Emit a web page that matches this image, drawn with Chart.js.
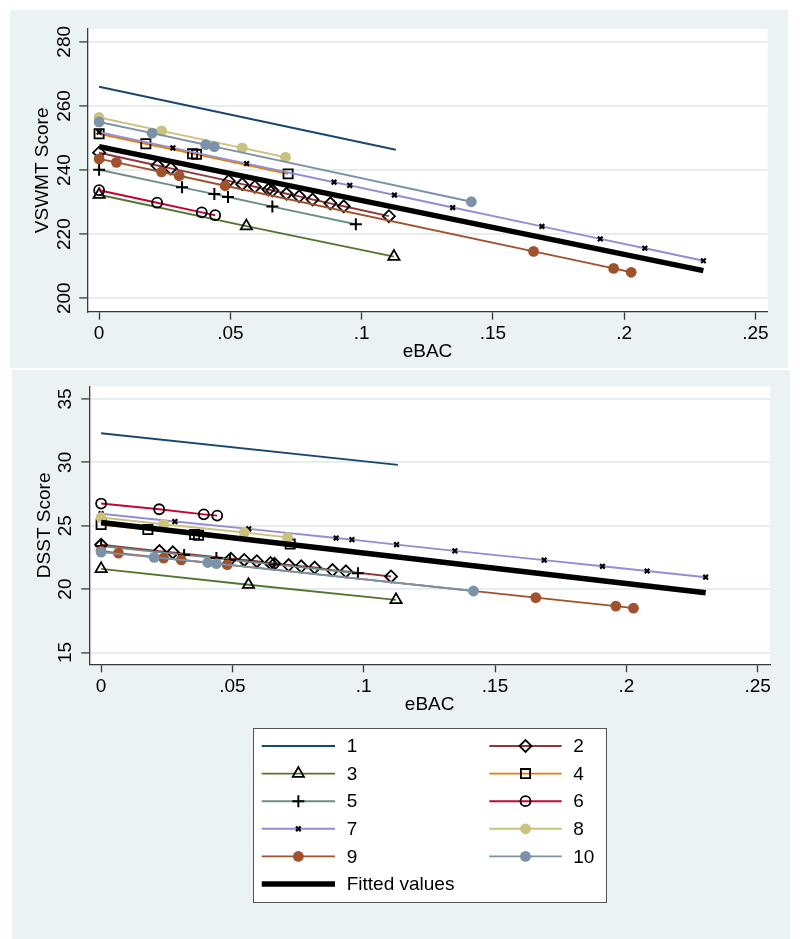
<!DOCTYPE html>
<html>
<head>
<meta charset="utf-8">
<script src="https://cdn.jsdelivr.net/npm/chart.js@4.4.1/dist/chart.umd.min.js"></script>
<style>
  html, body { margin:0; padding:0; background:#fff; }
  body { width:800px; height:939px; position:relative; overflow:hidden; }
  .panel { position:absolute; background:#eaf2f3; }
  #panel-top { left:10px; top:10px;  width:778px; height:358px; }
  #panel-bot { left:12px; top:370px; width:778px; height:569px; }
  canvas { display:block; }
</style>
</head>
<body>
<div class="panel" id="panel-top"><canvas id="js-vswmt" width="778" height="358"></canvas></div>
<div class="panel" id="panel-bot"><canvas id="js-dsst" width="778" height="569"></canvas></div>
<script>
  /* ━━━━  DATA  ━━━━ */
  const GROUPS = ['1','2','3','4','5','6','7','8','9','10','Fitted values'];

  // eBAC of each observation, per group (same subjects in both panels)
  const EBAC_1   = [0, 0.113];
  const EBAC_2   = [0, 0.0222, 0.0273, 0.0494, 0.0545, 0.0593, 0.0645, 0.066, 0.0714, 0.0762, 0.0813, 0.0881, 0.0932, 0.1104];
  const EBAC_3   = [0, 0.0561, 0.1123];
  const EBAC_4   = [0, 0.0178, 0.0356, 0.0371, 0.072];
  const EBAC_5   = [0, 0.0316, 0.0439, 0.0491, 0.066, 0.0978];
  const EBAC_6   = [0, 0.0221, 0.0391, 0.0442];
  const EBAC_7   = [0, 0.0281, 0.0562, 0.0895, 0.0955, 0.1125, 0.1347, 0.1687, 0.1909, 0.2079, 0.2302];
  const EBAC_8   = [0, 0.0238, 0.0545, 0.071];
  const EBAC_9   = [0, 0.0066, 0.0238, 0.0305, 0.048, 0.1655, 0.196, 0.2027];
  const EBAC_10  = [0, 0.0202, 0.0406, 0.0439, 0.1418];
  const EBAC_FIT = [0, 0.2302];

  // VSWMT score (top panel)
  const VSWMT_1   = [266.0, 246.3];
  const VSWMT_2   = [245.4, 241.4, 240.5, 236.6, 235.6, 234.8, 233.9, 233.6, 232.6, 231.8, 230.8, 229.6, 228.7, 225.6];
  const VSWMT_3   = [232.3, 222.5, 213.0];
  const VSWMT_4   = [251.3, 248.2, 245.1, 244.9, 238.8];
  const VSWMT_5   = [240.1, 234.6, 232.5, 231.6, 228.6, 223.1];
  const VSWMT_6   = [233.7, 229.8, 226.8, 225.9];
  const VSWMT_7   = [251.8, 246.9, 242.0, 236.2, 235.2, 232.2, 228.3, 222.4, 218.5, 215.6, 211.7];
  const VSWMT_8   = [256.4, 252.2, 246.9, 244.0];
  const VSWMT_9   = [243.5, 242.4, 239.4, 238.2, 235.1, 214.6, 209.3, 208.1];
  const VSWMT_10  = [255.0, 251.5, 247.9, 247.3, 230.1];
  const VSWMT_FIT = [247.3, 208.6];

  // DSST score (bottom panel)
  const DSST_1   = [32.3, 29.8];
  const DSST_2   = [23.5, 23.0, 22.9, 22.4, 22.3, 22.2, 22.05, 22.0, 21.9, 21.8, 21.7, 21.5, 21.4, 21.0];
  const DSST_3   = [21.6, 20.35, 19.15];
  const DSST_4   = [25.1, 24.7, 24.3, 24.25, 23.55];
  const DSST_5   = [23.4, 22.7, 22.45, 22.3, 21.95, 21.25];
  const DSST_6   = [26.75, 26.3, 25.9, 25.8];
  const DSST_7   = [25.95, 25.33, 24.75, 24.03, 23.9, 23.51, 23.02, 22.29, 21.8, 21.43, 20.94];
  const DSST_8   = [25.65, 25.12, 24.47, 24.08];
  const DSST_9   = [23.0, 22.84, 22.45, 22.3, 21.93, 19.33, 18.66, 18.5];
  const DSST_10  = [22.92, 22.5, 22.1, 22.01, 19.85];
  const DSST_FIT = [25.25, 19.72];

  const X_TICKS        = [0, 0.05, 0.1, 0.15, 0.2, 0.25];
  const X_TICK_LABELS  = ['0', '.05', '.1', '.15', '.2', '.25'];
  const VSWMT_TICKS    = [200, 220, 240, 260, 280];
  const DSST_TICKS     = [15, 20, 25, 30, 35];

  const EBAC  = [EBAC_1, EBAC_2, EBAC_3, EBAC_4, EBAC_5, EBAC_6, EBAC_7, EBAC_8, EBAC_9, EBAC_10, EBAC_FIT];
  const VSWMT = [VSWMT_1, VSWMT_2, VSWMT_3, VSWMT_4, VSWMT_5, VSWMT_6, VSWMT_7, VSWMT_8, VSWMT_9, VSWMT_10, VSWMT_FIT];
  const DSST  = [DSST_1, DSST_2, DSST_3, DSST_4, DSST_5, DSST_6, DSST_7, DSST_8, DSST_9, DSST_10, DSST_FIT];

  /* ━━━━  STYLE  ━━━━ */
  const FONT = { family: "'Liberation Sans', Arial, sans-serif", size: 19 };
  const AXIS = '#3a3a3a';
  const GRID = '#e3ebee';

  const STYLE = [
    { color:'#1a476f', lw:2,   point:null },
    { color:'#90353b', lw:1.9, point:'rectRot',  r:6,   filled:false, bw:1.8 },
    { color:'#55752f', lw:1.9, point:'triangle', r:6.5, filled:false, bw:1.8 },
    { color:'#e37e00', lw:1.9, point:'rect',     r:6.5, filled:false, bw:1.8 },
    { color:'#6e8e84', lw:1.9, point:'cross',    r:6,   filled:false, bw:2   },
    { color:'#c10534', lw:1.9, point:'circle',   r:5,   filled:false, bw:1.8 },
    { color:'#938dd2', lw:1.9, point:'crossRot', r:3.3, filled:false, bw:2.2 },
    { color:'#cac27e', lw:1.9, point:'circle',   r:5.4, filled:true,  bw:0   },
    { color:'#a0522d', lw:1.9, point:'circle',   r:5.4, filled:true,  bw:0   },
    { color:'#7b92a8', lw:1.9, point:'circle',   r:5.4, filled:true,  bw:0   },
    { color:'#000000', lw:5.5, point:null },
  ];

  function buildDatasets(ys) {
    return GROUPS.map((g, i) => {
      const s = STYLE[i];
      return {
        label: g,
        data: EBAC[i].map((x, k) => ({ x, y: ys[i][k] })),
        showLine: true,
        tension: 0,
        fill: false,
        borderColor: s.color,
        borderWidth: s.lw,
        pointStyle: s.point || 'circle',
        pointRadius: s.point ? s.r : 0,
        pointHoverRadius: s.point ? s.r : 0,
        pointBackgroundColor: s.filled ? s.color : 'rgba(0,0,0,0)',
        pointBorderColor: s.filled ? s.color : '#000',
        pointBorderWidth: s.bw || 0,
        order: GROUPS.length - i
      };
    });
  }

  /* white plot region */
  const plotBg = {
    id: 'plotBg',
    beforeDraw(chart) {
      const a = chart.chartArea, ctx = chart.ctx;
      ctx.save();
      ctx.fillStyle = '#fff';
      ctx.fillRect(a.left, a.top, a.right - a.left, a.bottom - a.top);
      ctx.restore();
    }
  };

  /* Stata style legend box under the bottom panel */
  const legendBox = {
    id: 'legendBox',
    afterDraw(chart) {
      const ctx = chart.ctx;
      const dp = Chart.helpers && Chart.helpers.drawPoint;
      ctx.save();
      ctx.fillStyle = '#fff';
      ctx.fillRect(241, 358, 353, 174);
      ctx.strokeStyle = '#555';
      ctx.lineWidth = 1;
      ctx.strokeRect(241.5, 358.5, 353, 174);
      const cols = [{ x0:249.7, x1:323, tx:334.7 }, { x0:477.3, x1:549.7, tx:561.3 }];
      GROUPS.forEach((g, i) => {
        const s = STYLE[i];
        const c = cols[i % 2];
        const y = 376 + Math.floor(i / 2) * 27.6;
        ctx.strokeStyle = s.color;
        ctx.lineWidth = s.lw;
        ctx.beginPath();
        ctx.moveTo(c.x0, y);
        ctx.lineTo(c.x1, y);
        ctx.stroke();
        if (s.point && dp) {
          ctx.fillStyle = s.filled ? s.color : 'rgba(0,0,0,0)';
          ctx.strokeStyle = s.filled ? s.color : '#000';
          ctx.lineWidth = s.bw;
          dp(ctx, { pointStyle: s.point, radius: s.r, rotation: 0, borderWidth: s.bw }, (c.x0 + c.x1) / 2, y);
        }
        ctx.fillStyle = '#000';
        ctx.font = FONT.size + 'px ' + FONT.family;
        ctx.textBaseline = 'middle';
        ctx.textAlign = 'left';
        ctx.fillText(g, c.tx, y + 1);
      });
      ctx.restore();
    }
  };

  /* ━━━━  CHARTS  ━━━━ */
  function makeChart(id, ys, opt) {
    return new Chart(document.getElementById(id), {
      type: 'scatter',
      data: { datasets: buildDatasets(ys) },
      options: {
        responsive: false,
        animation: false,
        events: [],
        layout: { padding: opt.pad },
        plugins: { legend: { display: false }, tooltip: { enabled: false } },
        scales: {
          x: {
            type: 'linear',
            min: -0.0045,
            max: 0.2547,
            afterBuildTicks: s => { s.ticks = X_TICKS.map(v => ({ value: v })); },
            afterFit: s => { s.height = 56.3; },
            ticks: {
              callback: (v, i) => X_TICK_LABELS[i],
              color: '#000', font: FONT, padding: 3,
              minRotation: 0, maxRotation: 0, autoSkip: false
            },
            grid: { drawOnChartArea: false, drawTicks: true, tickLength: 8, tickColor: AXIS, tickWidth: 1.3 },
            border: { display: true, color: AXIS, width: 1.3 },
            title: { display: true, text: 'eBAC', color: '#000', font: FONT, padding: { top: 0, bottom: 4.6 } }
          },
          y: {
            type: 'linear',
            min: opt.yMin,
            max: opt.yMax,
            afterBuildTicks: s => { s.ticks = opt.yTicks.map(v => ({ value: v })); },
            afterFit: s => { s.width = 62.3; },
            ticks: {
              callback: v => String(v),
              color: '#000', font: FONT, padding: opt.yPad,
              minRotation: 90, maxRotation: 90, crossAlign: 'center'
            },
            grid: { color: GRID, lineWidth: 1.8, drawTicks: true, tickLength: 8, tickColor: AXIS, tickWidth: 1.3 },
            border: { display: true, color: AXIS, width: 1.3 },
            title: { display: true, text: opt.yTitle, color: '#000', font: FONT, padding: { top: 6, bottom: 0 } }
          }
        }
      },
      plugins: opt.extra ? [plotBg, opt.extra] : [plotBg]
    });
  }

  makeChart('js-vswmt', VSWMT, {
    pad: { left: 15, top: 19, right: 20.3, bottom: 0 },
    yMin: 195.8, yMax: 284.0, yTicks: VSWMT_TICKS, yTitle: 'VSWMT Score', yPad: -1
  });

  makeChart('js-dsst', DSST, {
    pad: { left: 15, top: 13, right: 20, bottom: 218.4 },
    yMin: 14.07, yMax: 35.99, yTicks: DSST_TICKS, yTitle: 'DSST Score', yPad: 5,
    extra: legendBox
  });
</script>
</body>
</html>
